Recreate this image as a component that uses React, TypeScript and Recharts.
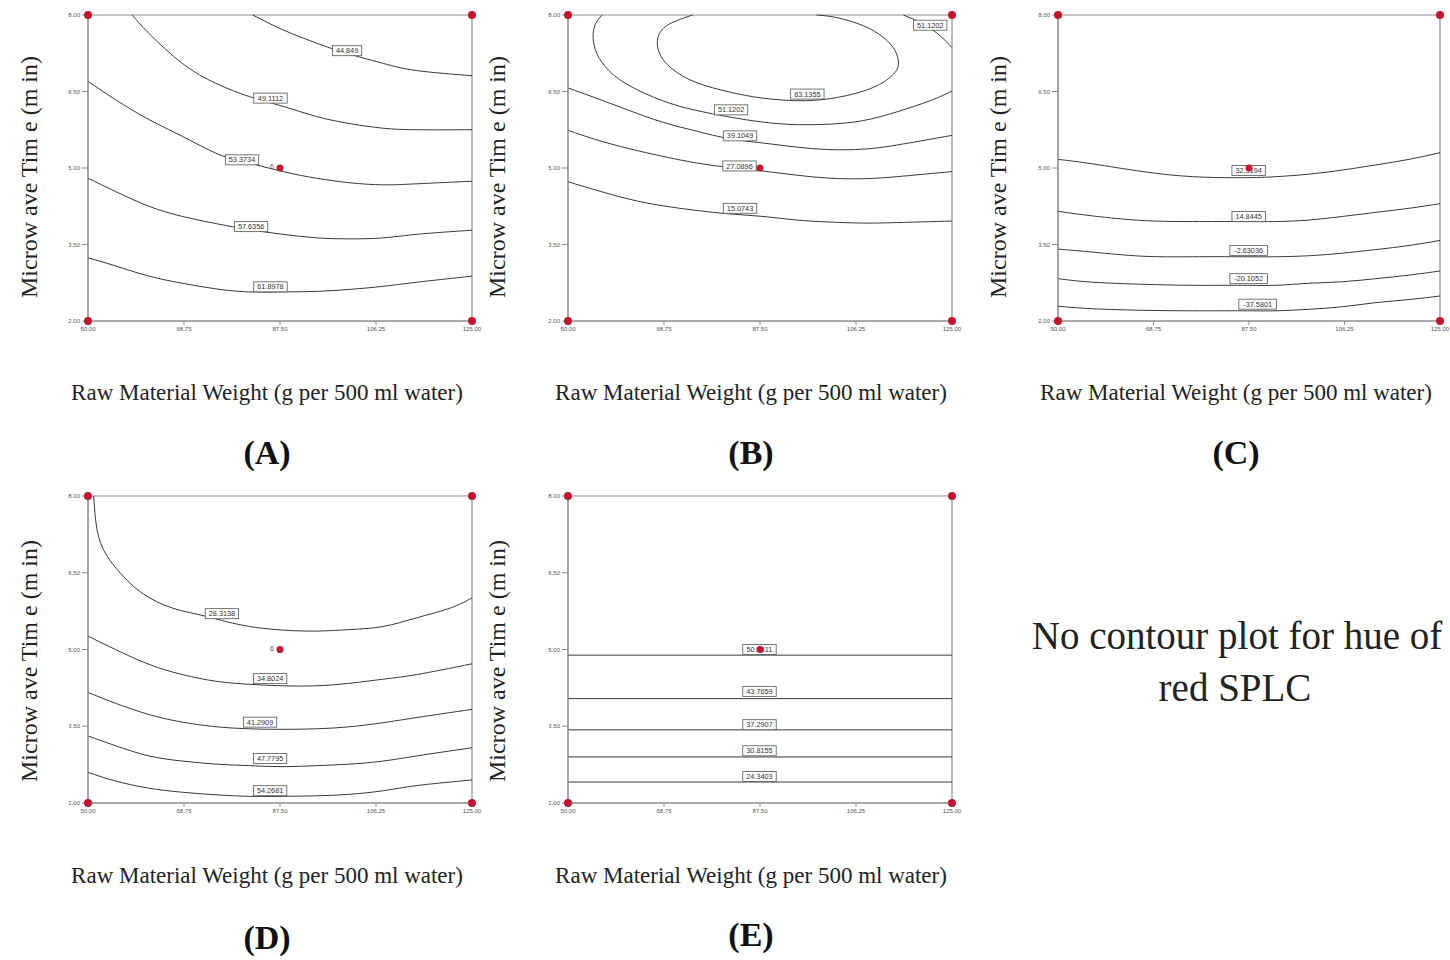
import React from 'react'
import { ComposedChart, Line, Scatter, XAxis, YAxis, ReferenceArea } from 'recharts'

// axis ticks shared by every panel
const xTicks = [50, 68.75, 87.5, 106.25, 125]
const yTicks = [2, 3.5, 5, 6.5, 8]

// design points (factorial corners + centre point with 6 replicates)
const cornerPoints = [[50, 2], [50, 8], [125, 2], [125, 8]]
const centrePoint = [[87.5, 5]]

// ---- panel A
const a44849 = [[82.17, 8], [88.06, 7.71], [94.6, 7.45], [100.5, 7.25], [107.7, 7.05], [114.2, 6.91], [125, 6.81]]
const a491112 = [[58.63, 8], [61.9, 7.64], [68.44, 7.05], [74.98, 6.66], [81.52, 6.4], [88.06, 6.21], [94.6, 6.01], [101.14, 5.87], [107.67, 5.78], [114.21, 5.75], [125, 5.75]]
const a533734 = [[50, 6.7], [55.36, 6.34], [61.9, 5.95], [68.44, 5.62], [74.98, 5.29], [80.21, 5.13], [88.06, 4.93], [94.6, 4.8], [101.14, 4.71], [107.67, 4.67], [114.21, 4.69], [125, 4.74]]
const a576356 = [[50, 4.8], [55.36, 4.54], [61.9, 4.25], [68.44, 4.05], [74.98, 3.91], [81.52, 3.79], [88.06, 3.7], [94.6, 3.63], [101.14, 3.61], [107.67, 3.63], [114.21, 3.7], [125, 3.78]]
const a618978 = [[50, 3.24], [55.36, 3.08], [61.9, 2.88], [68.44, 2.74], [74.98, 2.63], [81.52, 2.57], [88.06, 2.57], [94.6, 2.58], [101.14, 2.62], [107.67, 2.68], [114.21, 2.76], [125, 2.88]]
const aLabels = [
  { x: 100.6, y: 7.3, t: '44.849' },
  { x: 85.64, y: 6.37, t: '49.1112' },
  { x: 80.08, y: 5.16, t: '53.3734' },
  { x: 81.85, y: 3.85, t: '57.6356' },
  { x: 85.64, y: 2.67, t: '61.8978' },
]

// ---- panel B
const b511202corner = [[115.52, 8], [119.44, 7.82], [122.71, 7.59], [125, 7.36]]
const b511202 = [[56.67, 8], [55.36, 7.82], [54.9, 7.56], [55.69, 7.23], [57.98, 6.91], [61.9, 6.62], [68.44, 6.32], [74.98, 6.13], [81.52, 6.0], [88.06, 5.9], [94.6, 5.85], [101.14, 5.86], [107.67, 5.93], [114.21, 6.1], [120.75, 6.32], [125, 6.51]]
const b631355 = [[74.33, 8], [69.75, 7.82], [67.79, 7.62], [67.46, 7.43], [68.11, 7.2], [70.4, 6.94], [74.98, 6.68], [81.52, 6.49], [88.06, 6.37], [96.56, 6.32], [104.4, 6.42], [110.29, 6.61], [113.56, 6.84], [114.54, 7.04], [113.89, 7.3], [111.6, 7.56], [107.67, 7.79], [102.44, 7.95], [98.52, 8]]
const b391049 = [[50, 6.57], [55.36, 6.375], [61.9, 6.13], [68.44, 5.9], [74.98, 5.725], [81.52, 5.575], [88.06, 5.49], [94.6, 5.41], [101.14, 5.36], [107.67, 5.37], [114.21, 5.45], [125, 5.64]]
const b270896 = [[50, 5.74], [55.36, 5.56], [61.9, 5.38], [68.44, 5.23], [74.98, 5.1], [81.52, 5.01], [88.06, 4.94], [94.6, 4.86], [101.14, 4.8], [107.67, 4.79], [114.21, 4.83], [125, 4.93]]
const b150743 = [[50, 4.73], [55.36, 4.57], [61.9, 4.39], [68.44, 4.26], [74.98, 4.17], [81.52, 4.1], [88.06, 4.05], [94.6, 3.98], [101.14, 3.94], [107.67, 3.92], [114.21, 3.93], [125, 3.96]]
const bLabels = [
  { x: 120.75, y: 7.8, t: '51.1202' },
  { x: 96.75, y: 6.45, t: '63.1355' },
  { x: 81.85, y: 6.14, t: '51.1202' },
  { x: 83.6, y: 5.63, t: '39.1049' },
  { x: 83.5, y: 5.04, t: '27.0896' },
  { x: 83.6, y: 4.21, t: '15.0743' },
]

// ---- panel C
const cX = [50, 56.86, 66.66, 76.46, 86.26, 92.79, 99.32, 105.86, 112.39, 118.92, 125]
const c323194 = [5.17, 5.08, 4.93, 4.83, 4.81, 4.83, 4.88, 4.96, 5.06, 5.17, 5.3]
const c148445 = [4.15, 4.06, 3.97, 3.95, 3.95, 3.95, 3.98, 4.05, 4.13, 4.21, 4.3]
const cM263036 = [3.41, 3.35, 3.27, 3.26, 3.26, 3.26, 3.28, 3.33, 3.4, 3.48, 3.58]
const cM201052 = [2.83, 2.76, 2.72, 2.7, 2.7, 2.7, 2.74, 2.77, 2.83, 2.9, 2.98]
const cM375801 = [2.29, 2.24, 2.21, 2.2, 2.2, 2.2, 2.23, 2.28, 2.36, 2.42, 2.49]
const cLabels = [
  { x: 87.43, y: 4.95, t: '32.3194' },
  { x: 87.43, y: 4.05, t: '14.8445' },
  { x: 87.43, y: 3.385, t: '-2.63036' },
  { x: 87.43, y: 2.83, t: '-20.1052' },
  { x: 89.2, y: 2.33, t: '-37.5801' },
]

// ---- panel D
const d283138 = [[51.11, 8], [51.77, 7.34], [53.4, 6.88], [56.34, 6.49], [60.59, 6.1], [66.48, 5.81], [73.02, 5.65], [81.52, 5.45], [92.63, 5.36], [101.14, 5.39], [107.67, 5.45], [114.21, 5.62], [120.75, 5.81], [125, 6.01]]
const dX = [50, 55.36, 61.9, 68.44, 74.98, 81.52, 88.06, 94.6, 101.14, 107.67, 114.21, 125]
const d348024 = [5.26, 5.0, 4.71, 4.51, 4.38, 4.32, 4.29, 4.29, 4.34, 4.42, 4.51, 4.72]
const d412909 = [4.16, 3.95, 3.73, 3.58, 3.49, 3.45, 3.44, 3.45, 3.49, 3.57, 3.67, 3.83]
const d477795 = [3.31, 3.12, 2.92, 2.82, 2.76, 2.73, 2.71, 2.73, 2.76, 2.82, 2.92, 3.08]
const d542681 = [2.6, 2.43, 2.29, 2.21, 2.16, 2.13, 2.13, 2.14, 2.17, 2.24, 2.34, 2.45]
const dLabels = [
  { x: 76.16, y: 5.7, t: '28.3138' },
  { x: 85.57, y: 4.43, t: '34.8024' },
  { x: 83.6, y: 3.58, t: '41.2909' },
  { x: 85.57, y: 2.87, t: '47.7795' },
  { x: 85.57, y: 2.24, t: '54.2681' },
]

// ---- panel E (flat contours)
const eLevels = [4.89, 4.04, 3.43, 2.9, 2.41]
const eLabels = [
  { x: 87.4, y: 5.0, t: '50.2411' },
  { x: 87.4, y: 4.18, t: '43.7659' },
  { x: 87.4, y: 3.53, t: '37.2907' },
  { x: 87.4, y: 3.02, t: '30.8155' },
  { x: 87.4, y: 2.52, t: '24.3403' },
]

const pts = (arr: number[][]) => arr.map(([x, y]) => ({ x, y }))
const zipX = (xs: number[], ys: number[]) => xs.map((x, i) => ({ x, y: ys[i] }))

const RED = '#c3132f'
const FRAME = '#8e8e8e'
const SERIF = '"Liberation Serif", "DejaVu Serif", serif'

const BoxLabel = (props: any) => {
  const { cx, cy, payload } = props
  const w = payload.t.length * 4.2 + 4
  return (
    <g>
      <rect x={cx - w / 2} y={cy - 5} width={w} height={10} fill="#fff" stroke="#555" strokeWidth={0.8} />
      <text x={cx} y={cy + 2.6} textAnchor="middle" fontSize={7.3} fontFamily="Liberation Sans, Arial" fill="#333">
        {payload.t}
      </text>
    </g>
  )
}

const CornerDot = (props: any) => <circle cx={props.cx} cy={props.cy} r={4} fill={RED} />

const CentreDot = (props: any) => <circle cx={props.cx} cy={props.cy} r={3.5} fill={RED} />

const CentreDotN = (props: any) => (
  <g>
    <text x={props.cx - 8} y={props.cy + 1} fontSize={7} fontFamily="Liberation Sans, Arial" fill="#555" textAnchor="middle">6</text>
    <circle cx={props.cx} cy={props.cy} r={3.5} fill={RED} />
  </g>
)

interface PanelProps {
  left: number
  top: number
  width: number
  height: number
  lines: { x: number; y: number }[][]
  labels: { x: number; y: number; t: string }[]
  curve?: 'natural' | 'linear'
  showN?: boolean
}

function Panel({ left, top, width, height, lines, labels, curve = 'natural', showN = false }: PanelProps) {
  const tickStyle = { fontSize: 6, fill: '#555', fontFamily: 'Liberation Sans, Arial' }
  return (
    <div style={{ position: 'absolute', left: left - 60, top: top - 10 }}>
      <ComposedChart width={width + 75} height={height + 40} margin={{ top: 10, right: 15, bottom: 10, left: 30 }}>
        <XAxis
          type="number"
          dataKey="x"
          domain={[50, 125]}
          ticks={xTicks}
          tickFormatter={(v: number) => v.toFixed(2)}
          height={20}
          tick={tickStyle}
          tickSize={4}
          stroke={FRAME}
          interval={0}
        />
        <YAxis
          type="number"
          dataKey="y"
          domain={[2, 8]}
          ticks={yTicks}
          tickFormatter={(v: number) => v.toFixed(2)}
          width={30}
          tick={tickStyle}
          tickSize={6}
          stroke={FRAME}
          interval={0}
        />
        <ReferenceArea x1={50} x2={125} y1={2} y2={8} fill="none" fillOpacity={0} stroke={FRAME} strokeWidth={1.2} />
        {lines.map((d, i) => (
          <Line
            key={i}
            data={d}
            dataKey="y"
            type={curve}
            stroke="#3a3a3a"
            strokeWidth={1}
            dot={false}
            activeDot={false}
            isAnimationActive={false}
          />
        ))}
        <Scatter data={labels} shape={BoxLabel} isAnimationActive={false} />
        <Scatter data={pts(cornerPoints)} shape={CornerDot} isAnimationActive={false} />
        <Scatter data={pts(centrePoint)} shape={showN ? CentreDotN : CentreDot} isAnimationActive={false} />
      </ComposedChart>
    </div>
  )
}

const xTitle = 'Raw Material Weight (g per 500 ml water)'
const yTitle = 'Microw ave Tim e (m in)'

export default function App() {
  const panelA = [a44849, a491112, a533734, a576356, a618978].map(pts)
  const panelB = [b511202corner, b511202, b631355, b391049, b270896, b150743].map(pts)
  const panelC = [c323194, c148445, cM263036, cM201052, cM375801].map((ys) => zipX(cX, ys))
  const panelD = [pts(d283138), ...[d348024, d412909, d477795, d542681].map((ys) => zipX(dX, ys))]
  const panelE = eLevels.map((y) => pts([[50, y], [125, y]]))

  const xTitles = [
    { x: 267, y: 400 },
    { x: 751, y: 400 },
    { x: 1236, y: 400 },
    { x: 267, y: 883 },
    { x: 751, y: 883 },
  ]
  const yTitles = [
    { x: 37, y: 177 },
    { x: 505, y: 177 },
    { x: 1006, y: 177 },
    { x: 37, y: 661 },
    { x: 505, y: 661 },
  ]
  const letters = [
    { x: 267, y: 464, t: '(A)' },
    { x: 751, y: 464, t: '(B)' },
    { x: 1236, y: 464, t: '(C)' },
    { x: 267, y: 949, t: '(D)' },
    { x: 751, y: 946, t: '(E)' },
  ]

  return (
    <div style={{ position: 'absolute', left: 0, top: 0, width: 1450, height: 960, background: '#fff', overflow: 'hidden' }}>
      <Panel left={88} top={15} width={384} height={306} lines={panelA} labels={aLabels} showN />
      <Panel left={568} top={15} width={384} height={306} lines={panelB} labels={bLabels} />
      <Panel left={1058} top={15} width={382} height={306} lines={panelC} labels={cLabels} />
      <Panel left={88} top={496} width={384} height={307} lines={panelD} labels={dLabels} showN />
      <Panel left={568} top={496} width={384} height={307} lines={panelE} labels={eLabels} curve="linear" />

      <svg width={1450} height={960} style={{ position: 'absolute', left: 0, top: 0, pointerEvents: 'none' }}>
        {xTitles.map((p, i) => (
          <text key={'x' + i} x={p.x} y={p.y} textAnchor="middle" fontFamily={SERIF} fontSize={23} fill="#222">
            {xTitle}
          </text>
        ))}
        {yTitles.map((p, i) => (
          <text
            key={'y' + i}
            x={p.x}
            y={p.y}
            textAnchor="middle"
            fontFamily={SERIF}
            fontSize={24}
            fill="#222"
            transform={`rotate(-90 ${p.x} ${p.y})`}
          >
            {yTitle}
          </text>
        ))}
        {letters.map((p) => (
          <text key={p.t} x={p.x} y={p.y} textAnchor="middle" fontFamily={SERIF} fontSize={34} fontWeight="bold" fill="#111">
            {p.t}
          </text>
        ))}
        <text x={1237} y={649} textAnchor="middle" fontFamily={SERIF} fontSize={39} fill="#222">
          No contour plot for hue of
        </text>
        <text x={1235} y={701} textAnchor="middle" fontFamily={SERIF} fontSize={39} fill="#222">
          red SPLC
        </text>
      </svg>
    </div>
  )
}
